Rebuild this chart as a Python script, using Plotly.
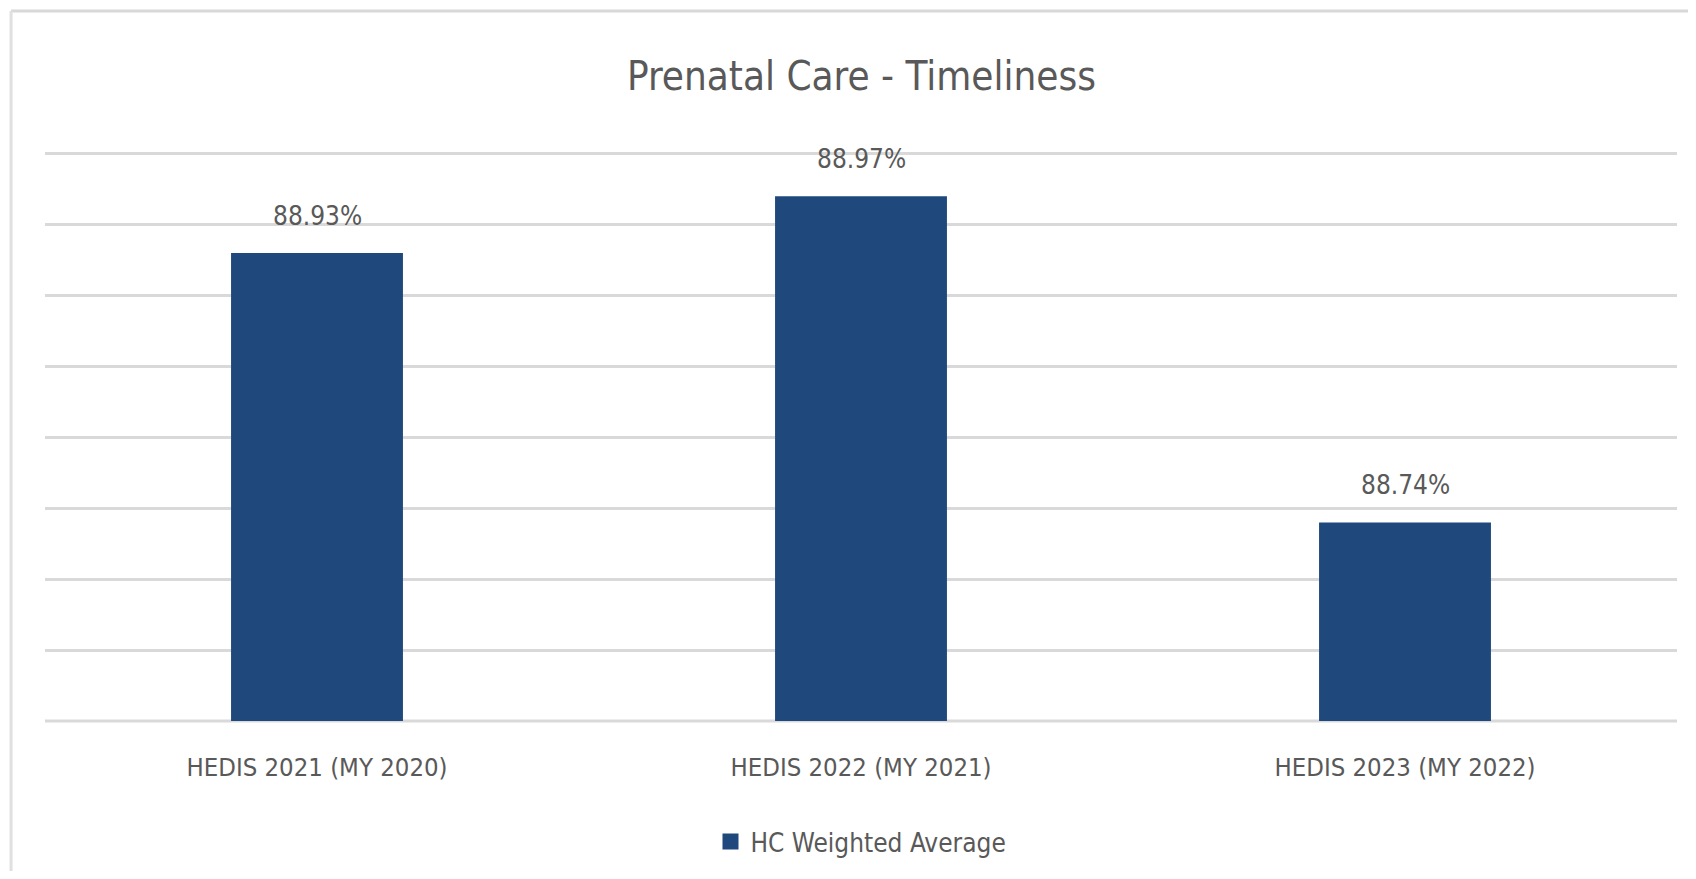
import plotly.graph_objects as go

categories = ["HEDIS 2021 (MY 2020)", "HEDIS 2022 (MY 2021)", "HEDIS 2023 (MY 2022)"]
hc_weighted_avg = [88.93, 88.97, 88.74]
value_labels = ["88.93%", "88.97%", "88.74%"]
series_name = "HC Weighted Average"

FONT = "DejaVu Sans Condensed, Open Sans, sans-serif"
TEXT = "#595959"
GRID = "#d9d9d9"
BAR = "#1f497d"

fig = go.Figure()
fig.add_trace(
    go.Bar(
        x=categories,
        y=hc_weighted_avg,
        name=series_name,
        marker=dict(color=BAR, line=dict(width=0)),
        showlegend=False,
    )
)
# legend entry with a larger square swatch
fig.add_trace(
    go.Scatter(
        x=[None], y=[None], mode="markers", name=series_name,
        marker=dict(symbol="square", size=17, color=BAR),
    )
)

# value labels above the bars
for cat, val, lab in zip(categories, hc_weighted_avg, value_labels):
    fig.add_annotation(
        x=cat, y=val, text=lab, showarrow=False,
        yanchor="bottom", yshift=20,
        font=dict(size=26, color=TEXT, family=FONT),
    )

fig.update_layout(
    width=1680,
    height=863,
    margin=dict(l=37, r=11, t=143, b=150, autoexpand=False),
    paper_bgcolor="white",
    plot_bgcolor="white",
    bargap=0.684,
    showlegend=True,
    font=dict(family=FONT, color=TEXT),
    title=dict(
        text="Prenatal Care - Timeliness",
        x=0.508,
        xanchor="center",
        y=0.921,
        yanchor="middle",
        font=dict(size=40, color=TEXT, family=FONT),
    ),
    legend=dict(
        orientation="h",
        x=0.5,
        xanchor="center",
        yref="container",
        y=0.034,
        yanchor="middle",
        font=dict(size=26, color=TEXT, family=FONT),
        itemwidth=30,
    ),
    xaxis=dict(
        showgrid=False,
        showline=False,
        ticks="",
        tickfont=dict(size=25.5, color=TEXT, family=FONT),
        ticklabelstandoff=28,
    ),
    yaxis=dict(
        range=[88.6, 89.002],
        dtick=0.05,
        showticklabels=False,
        showgrid=True,
        gridcolor=GRID,
        gridwidth=2.5,
        zeroline=False,
        showline=False,
    ),
)

# baseline axis line
fig.add_shape(type="line", xref="paper", yref="paper", x0=0, x1=1, y0=0, y1=0,
              line=dict(color=GRID, width=3), layer="below")

# chart frame (top and left edges)
fig.add_shape(type="line", xref="paper", yref="paper", x0=-0.0208, x1=1.01,
              y0=1.2456, y1=1.2456, line=dict(color="#d8d8d8", width=3))
fig.add_shape(type="line", xref="paper", yref="paper", x0=-0.0208, x1=-0.0208,
              y0=1.2456, y1=-0.27, line=dict(color="#e0e0e0", width=3))

fig.write_html("out.html")
